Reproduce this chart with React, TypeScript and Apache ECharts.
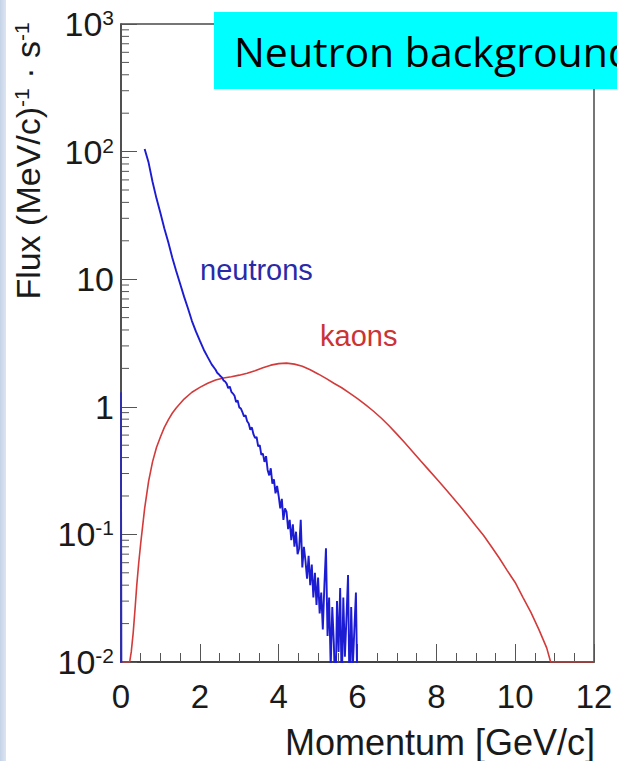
import React, { useEffect, useRef } from "react";
import * as echarts from "echarts";

// ---- data ----
const xTickValues = [0, 2, 4, 6, 8, 10, 12];
const yDecadeExponents = [-2, -1, 0, 1, 2, 3];
const yMinorMantissas = [2, 3, 4, 5, 6, 7, 8, 9];

const kaonsX = [0, 0.22, 0.26, 0.31, 0.36, 0.4, 0.45, 0.5, 0.6, 0.7, 0.8, 0.9, 1.0, 1.1, 1.2, 1.3, 1.4, 1.6, 1.8, 2.0, 2.2, 2.4, 2.6, 2.8, 3.0, 3.2, 3.4, 3.6, 3.8, 4.0, 4.2, 4.4, 4.6, 4.8, 5.0, 5.2, 5.4, 5.6, 5.8, 6.0, 6.2, 6.4, 6.6, 6.8, 7.0, 7.2, 7.4, 7.6, 7.8, 8.0, 8.2, 8.4, 8.6, 8.8, 9.0, 9.2, 9.4, 9.6, 9.8, 10.0, 10.2, 10.4, 10.6, 10.8, 10.9, 12];
const kaonsY = [0.01, 0.01, 0.012, 0.017, 0.027, 0.04, 0.06, 0.085, 0.16, 0.26, 0.37, 0.48, 0.58, 0.69, 0.79, 0.89, 0.98, 1.15, 1.3, 1.42, 1.53, 1.62, 1.68, 1.72, 1.77, 1.83, 1.92, 2.02, 2.12, 2.18, 2.2, 2.16, 2.08, 1.95, 1.81, 1.67, 1.53, 1.41, 1.28, 1.16, 1.04, 0.927, 0.817, 0.71, 0.611, 0.522, 0.445, 0.378, 0.322, 0.274, 0.233, 0.197, 0.167, 0.14, 0.117, 0.098, 0.08, 0.065, 0.052, 0.042, 0.032, 0.0245, 0.018, 0.0129, 0.01, 0.01];

const neutronsX = [0.6, 0.7, 0.8, 0.9, 1.0, 1.1, 1.2, 1.3, 1.4, 1.5, 1.6, 1.7, 1.8, 1.9, 2.0, 2.1, 2.2, 2.3, 2.4,
  2.44, 2.48, 2.52, 2.56, 2.6, 2.64, 2.68, 2.72, 2.76, 2.8, 2.84, 2.88, 2.92, 2.96, 3.0, 3.04, 3.08, 3.12, 3.16, 3.2,
  3.24, 3.28, 3.32, 3.36, 3.4, 3.44, 3.48, 3.52, 3.56, 3.6, 3.64, 3.68, 3.72, 3.76, 3.8, 3.84, 3.88, 3.92, 3.96, 4.0,
  4.04, 4.08, 4.12, 4.16, 4.2, 4.24, 4.28, 4.32, 4.36, 4.4, 4.44, 4.48, 4.52, 4.56, 4.6, 4.64, 4.68, 4.72, 4.76, 4.8,
  4.84, 4.88, 4.92, 4.96, 5.0, 5.04, 5.08, 5.12, 5.16, 5.2, 5.24, 5.28, 5.32, 5.36, 5.4, 5.44, 5.48, 5.52, 5.56, 5.6,
  5.64, 5.68, 5.72, 5.76, 5.8, 5.84, 5.88, 5.92, 5.96, 6.0];
const neutronsY = [105, 82, 58, 43, 33, 25, 19.5, 14.8, 11.6, 9.2, 7.3, 5.9, 4.7, 3.9, 3.3, 2.8, 2.45, 2.15, 1.95,
  1.85, 1.8, 1.74, 1.7, 1.61, 1.58, 1.52, 1.4, 1.44, 1.31, 1.27, 1.22, 1.09, 1.12, 0.99, 0.97, 0.91, 0.84, 0.86, 0.77,
  0.74, 0.66, 0.69, 0.61, 0.57, 0.58, 0.49, 0.5, 0.42, 0.43, 0.37, 0.41, 0.32, 0.29, 0.33, 0.25, 0.27, 0.21, 0.24, 0.2,
  0.16, 0.19, 0.13, 0.16, 0.15, 0.11, 0.13, 0.09, 0.12, 0.08, 0.105, 0.07, 0.078, 0.13, 0.055, 0.08, 0.062, 0.045, 0.068, 0.04,
  0.058, 0.032, 0.05, 0.028, 0.046, 0.024, 0.035, 0.018, 0.04, 0.078, 0.016, 0.032, 0.009, 0.027, 0.014, 0.005, 0.03, 0.012, 0.038, 0.006,
  0.032, 0.011, 0.022, 0.048, 0.005, 0.027, 0.009, 0.018, 0.035, 0.005];

// first histogram bin at p = 0
const neutronBin0X = [0, 0, 0.02];
const neutronBin0Y = [0.001, 1.3, 0.001];

const FONT = "'Liberation Sans', Arial, Helvetica, sans-serif";

export default function App() {
  const ref = useRef<HTMLDivElement>(null);

  useEffect(() => {
    if (!ref.current) return;
    const chart = echarts.init(ref.current, null, { renderer: "svg" });

    const kaons = kaonsX.map((x, i) => [x, kaonsY[i]]);
    const neutrons = neutronsX.map((x, i) => [x, neutronsY[i]]);
    const bin0 = neutronBin0X.map((x, i) => [x, neutronBin0Y[i]]);
    const minorTickData: number[][] = [];
    yDecadeExponents.slice(0, -1).forEach((e) => {
      yMinorMantissas.forEach((m) => minorTickData.push([0, m * Math.pow(10, e)]));
    });

    const supLabel = (v: number) => {
      const e = Math.round(Math.log10(v));
      if (e === 0) return "{b|1}";
      if (e === 1) return "{b|10}";
      return `{b|10}{s|${e}}`;
    };

    chart.setOption({
      animation: false,
      backgroundColor: "#ffffff",
      grid: {
        left: 121,
        right: 23,
        top: 24,
        bottom: 99,
        show: true,
        borderColor: "#4a4a4a",
        borderWidth: 1.5,
        backgroundColor: "transparent",
      },
      xAxis: {
        type: "value",
        min: 0,
        max: 12,
        interval: 2,
        axisLine: { show: true, onZero: false, lineStyle: { color: "#333", width: 1.5 } },
        axisTick: { show: true, inside: true, length: 18, lineStyle: { color: "#555", width: 1 } },
        minorTick: { show: true, splitNumber: 4, length: 9, lineStyle: { color: "#555", width: 1 } },
        splitLine: { show: false },
        axisLabel: {
          margin: 18,
          fontSize: 33,
          fontFamily: FONT,
          color: "#1a1a1a",
          formatter: (v: number) => (xTickValues.includes(v) ? String(v) : ""),
        },
      },
      yAxis: {
        type: "log",
        logBase: 10,
        min: 0.01,
        max: 1000,
        splitNumber: 5,
        axisLine: { show: true, onZero: false, lineStyle: { color: "#444", width: 1.5 } },
        axisTick: { show: true, inside: true, length: 16, lineStyle: { color: "#555", width: 1 } },
        splitLine: { show: false },
        axisLabel: {
          margin: 7,
          color: "#1a1a1a",
          formatter: supLabel,
          rich: {
            b: { fontSize: 34, lineHeight: 34, fontFamily: FONT, color: "#1a1a1a", verticalAlign: "bottom" },
            s: { fontSize: 21, lineHeight: 21, fontFamily: FONT, color: "#1a1a1a", verticalAlign: "top" },
          },
        },
      },
      series: [
        {
          type: "custom",
          name: "yMinorTicks",
          silent: true,
          clip: false,
          data: minorTickData,
          renderItem: (params: any, api: any) => {
            const p = api.coord([api.value(0), api.value(1)]);
            return {
              type: "line",
              shape: { x1: p[0], y1: p[1], x2: p[0] + 8, y2: p[1] },
              style: { stroke: "#555", lineWidth: 1 },
            };
          },
          z: 1,
        },
        {
          type: "line",
          name: "kaons",
          data: kaons,
          showSymbol: false,
          symbol: "none",
          lineStyle: { color: "#d33a3a", width: 1.6 },
          clip: true,
          z: 3,
        },
        {
          type: "line",
          name: "neutrons",
          data: neutrons,
          showSymbol: false,
          symbol: "none",
          lineStyle: { color: "#1c1cd2", width: 1.9 },
          clip: true,
          z: 4,
        },
        {
          type: "line",
          name: "neutrons bin 0",
          data: bin0,
          showSymbol: false,
          symbol: "none",
          lineStyle: { color: "#2a2ac0", width: 1.6 },
          clip: true,
          z: 4,
        },
      ],
      graphic: [
        {
          type: "rect",
          shape: { x: 0, y: 0, width: 6, height: 761 },
          style: {
            fill: new echarts.graphic.LinearGradient(0, 0, 1, 0, [
              { offset: 0, color: "#c4d3e8" },
              { offset: 1, color: "#dce5f1" },
            ]),
          },
          silent: true,
        },
        {
          type: "rect",
          shape: { x: 214, y: 12, width: 420, height: 77 },
          style: { fill: "#00ffff" },
          z: 100,
        },
        {
          type: "text",
          x: 234,
          y: 51,
          z: 101,
          style: {
            text: "Neutron background",
            font: "41px 'Open Sans', sans-serif",
            fill: "#000",
            verticalAlign: "middle",
            align: "left",
          },
        },
        {
          type: "text",
          x: 200,
          y: 270,
          z: 50,
          style: {
            text: "neutrons",
            font: "29px " + FONT,
            fill: "#2a2aa8",
            verticalAlign: "middle",
            align: "left",
          },
        },
        {
          type: "text",
          x: 320,
          y: 336,
          z: 50,
          style: {
            text: "kaons",
            font: "29px " + FONT,
            fill: "#cc3333",
            verticalAlign: "middle",
            align: "left",
          },
        },
        {
          type: "text",
          x: 595,
          y: 742,
          z: 50,
          style: {
            text: "Momentum [GeV/c]",
            font: "36px " + FONT,
            fill: "#1a1a1a",
            verticalAlign: "middle",
            align: "right",
          },
        },
        {
          type: "text",
          x: 28,
          y: 161,
          rotation: Math.PI / 2,
          z: 50,
          style: {
            text: "{n|Flux (MeV/c)}{s|-1}{n| · s}{s|-1}",
            align: "center",
            verticalAlign: "middle",
            rich: {
              n: { fontSize: 34, lineHeight: 34, fontFamily: FONT, fill: "#1a1a1a", verticalAlign: "bottom" },
              s: { fontSize: 21, lineHeight: 21, fontFamily: FONT, fill: "#1a1a1a", verticalAlign: "top" },
            },
          },
        },
      ],
    });

    return () => chart.dispose();
  }, []);

  return (
    <div
      ref={ref}
      style={{ position: "absolute", left: 0, top: 0, width: 617, height: 761, overflow: "hidden", background: "#fff" }}
    />
  );
}
